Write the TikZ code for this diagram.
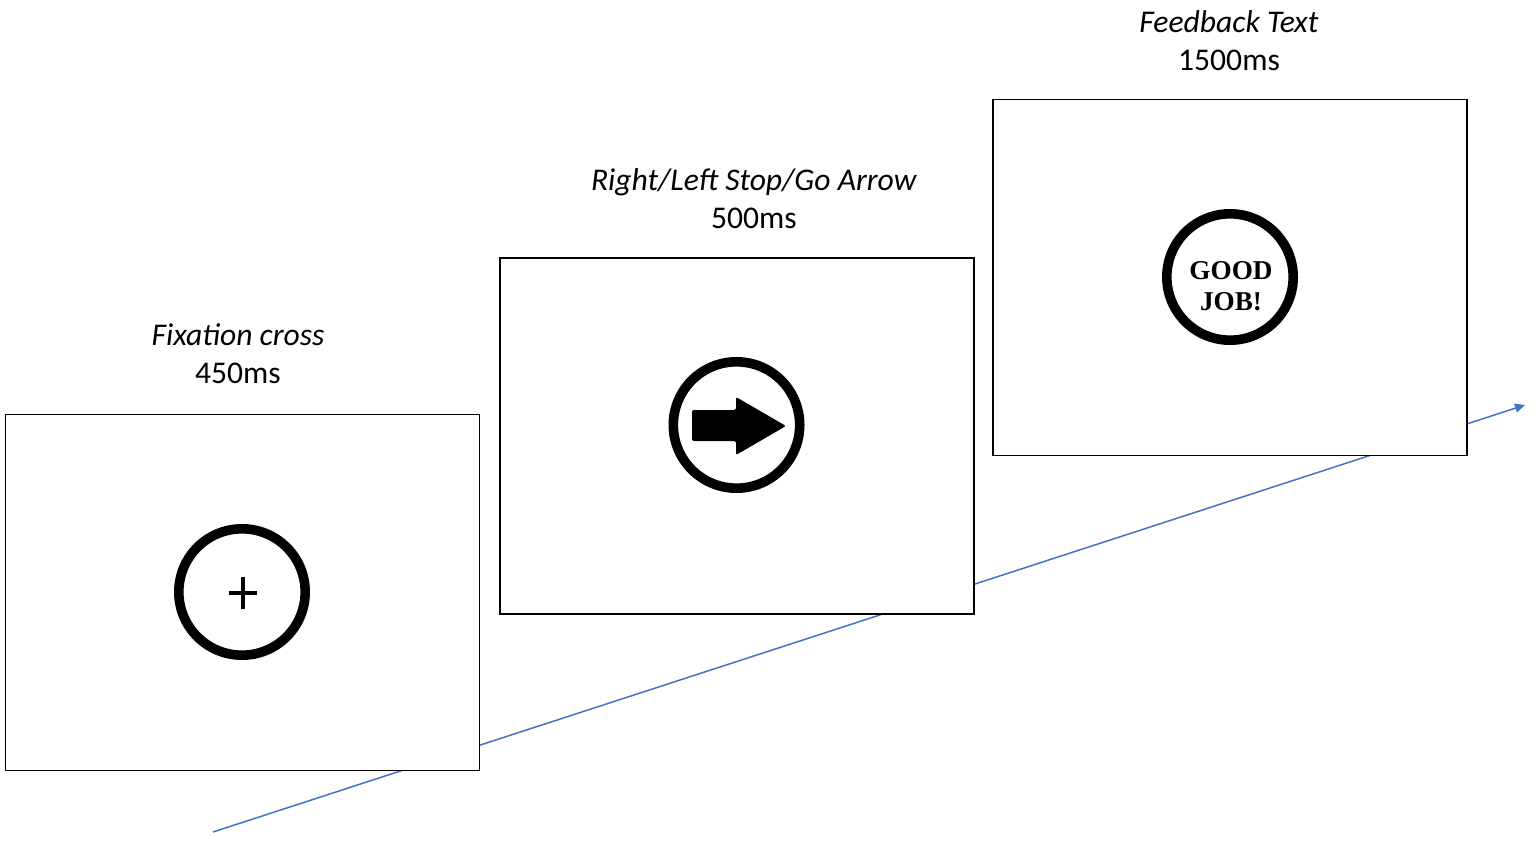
\documentclass[tikz,border=0pt]{standalone}
\usepackage{fontspec}
\setmainfont{Carlito}
\newfontfamily\boldserif{Liberation Serif}
\usepackage{tikz}
\usetikzlibrary{arrows.meta,positioning,calc}
\definecolor{timeBlue}{RGB}{68,114,196}

\tikzset{
  screen/.style={draw=black, line width=0.7pt, fill=white, minimum width=237pt, minimum height=178pt, inner sep=0pt},
  ring/.style={circle, draw=black, line width=4.8pt, minimum size=63.2pt, inner sep=0pt},
  caption/.style={font=\fontsize{15.8}{19}\selectfont, align=center},
  timeline/.style={timeBlue, line width=0.75pt}
}

\begin{document}
\begin{tikzpicture}[x=0.5pt,y=-0.5pt]
  \useasboundingbox (0,0) rectangle (1535,844);
  % time axis, behind the screens
  \coordinate (tstart) at (213,832);
  \coordinate (tend) at (1525,405);
  \draw[timeline,-{Triangle[length=5pt,width=4.5pt]}] (tstart) -- (tend);

  % LEFT: fixation cross
  \node[screen] (fixbox) at (242.5,592.5) {};
  \node[caption] (fixlabel) at (238,354) {\textit{Fixation cross}\\450ms};
  \node[ring] (fixring) at (242,592) {};
  \draw[line width=1.6pt] (229,593) -- (257,593) (243,577) -- (243,609);

  % MIDDLE: stop/go arrow
  \node[screen] (arrowbox) at (737,436) {};
  \node[caption] (arrowlabel) at (754,199) {\textit{Right/Left Stop/Go Arrow}\\500ms};
  \node[ring] (arrowring) at (736.5,425) {};
  \fill[rounded corners=1pt] (692,410) -- (736,410) -- (736,397) -- (786,426)
    -- (736,455) -- (736,441) -- (692,441) -- cycle;

  % RIGHT: feedback
  \node[screen] (fbbox) at (1230,277.5) {};
  \node[caption] (fblabel) at (1229,41) {\textit{Feedback Text}\\1500ms};
  \node[ring] (fbring) at (1230,277) {};
  \node[font=\boldserif\fontsize{13.6}{15.5}\selectfont\bfseries, align=center] (fbtext)
    at (1231,286) {GOOD\\JOB!};
\end{tikzpicture}
\end{document}
